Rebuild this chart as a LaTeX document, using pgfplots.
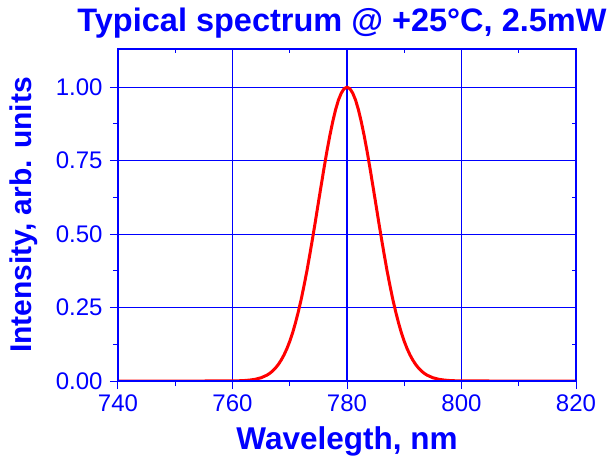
\documentclass[border=0pt]{standalone}
\usepackage{fontspec}
\setmainfont{Liberation Sans}
\usepackage{pgfplots}
\pgfplotsset{compat=1.18}

\pgfplotsset{
  specbox/.style={
    scale only axis,
    width=458bp, height=332bp,
    xmin=740, xmax=820, ymin=0, ymax=1.13,
    xtick={740,760,...,820},
    ytick={0,0.25,0.5,0.75,1},
    minor tick num=1,
    axis line style={blue, line width=1.2bp},
    every tick/.style={blue, line width=1bp},
  }
}

\begin{document}
\begin{tikzpicture}
  \begin{axis}[
      name=main,
      specbox,
      tick align=outside,
      xtick pos=left, ytick pos=left,
      major tick length=8bp, minor tick length=5bp,
      xmajorgrids, ymajorgrids,
      grid style={blue, line width=1.1bp},
      major x grid style={blue, line width=1.1bp},
      major y grid style={blue, line width=1.1bp},
      /pgf/number format/assume math mode=true,
      ticklabel style={font=\fontsize{24bp}{28bp}\selectfont, text=blue},
      y tick label style={xshift=-4bp, /pgf/number format/.cd, fixed, fixed zerofill, precision=2},
      x tick label style={yshift=-2.5bp},
      xlabel={Wavelegth, nm},
      ylabel={Intensity, arb. units},
      xlabel style={font=\fontsize{31.5bp}{36bp}\selectfont\bfseries, text=blue, yshift=-8bp},
      ylabel style={font=\fontsize{30bp}{36bp}\selectfont\bfseries, text=blue, yshift=11bp},
      title={Typical spectrum @ +25°C, 2.5mW},
      title style={font=\fontsize{32.5bp}{38bp}\selectfont\bfseries, text=blue,
        inner sep=0pt, xshift=-5bp, yshift=5bp},
    ]
    \addplot[red, line width=3bp] coordinates {
      (740,0) (750,0) (755,0) (758,0.00006) (760,0.0003) (761,0.0007)
      (762,0.0015) (763,0.0031) (764,0.0060) (765,0.0111) (766,0.0198)
      (766.5,0.026) (767,0.0340) (767.5,0.044) (768,0.0561) (768.5,0.071)
      (769,0.0889) (769.5,0.110) (770,0.135) (770.5,0.164) (771,0.198)
      (771.5,0.236) (772,0.278) (772.5,0.325) (773,0.375) (773.5,0.430)
      (774,0.487) (774.5,0.546) (775,0.607) (775.5,0.667) (776,0.726)
      (776.5,0.783) (777,0.835) (777.5,0.882) (778,0.923) (778.5,0.956)
      (779,0.980) (779.5,0.995) (780,1.000)
      (780.5,0.995) (781,0.980) (781.5,0.956) (782,0.923) (782.5,0.882)
      (783,0.835) (783.5,0.783) (784,0.726) (784.5,0.667) (785,0.607)
      (785.5,0.546) (786,0.487) (786.5,0.430) (787,0.375) (787.5,0.325)
      (788,0.278) (788.5,0.236) (789,0.198) (789.5,0.164) (790,0.135)
      (790.5,0.110) (791,0.0889) (791.5,0.071) (792,0.0561) (792.5,0.044)
      (793,0.0340) (793.5,0.026) (794,0.0198) (795,0.0111) (796,0.0060)
      (797,0.0031) (798,0.0015) (799,0.0007) (800,0.0003) (802,0.00006)
      (805,0) (810,0) (820,0)
    };
  \end{axis}
  \begin{axis}[
      specbox,
      tick align=inside,
      xtick pos=right, ytick pos=right,
      major tick length=6bp, minor tick length=4bp,
      xticklabels={}, yticklabels={},
    ]
  \end{axis}
  % page size: 118 left, 31 right, 49 top, 77 below the box
  \pgfresetboundingbox
  \path ([xshift=-118bp, yshift=-77bp]main.south west)
    rectangle ([xshift=31bp, yshift=49bp]main.north east);
\end{tikzpicture}
\end{document}
